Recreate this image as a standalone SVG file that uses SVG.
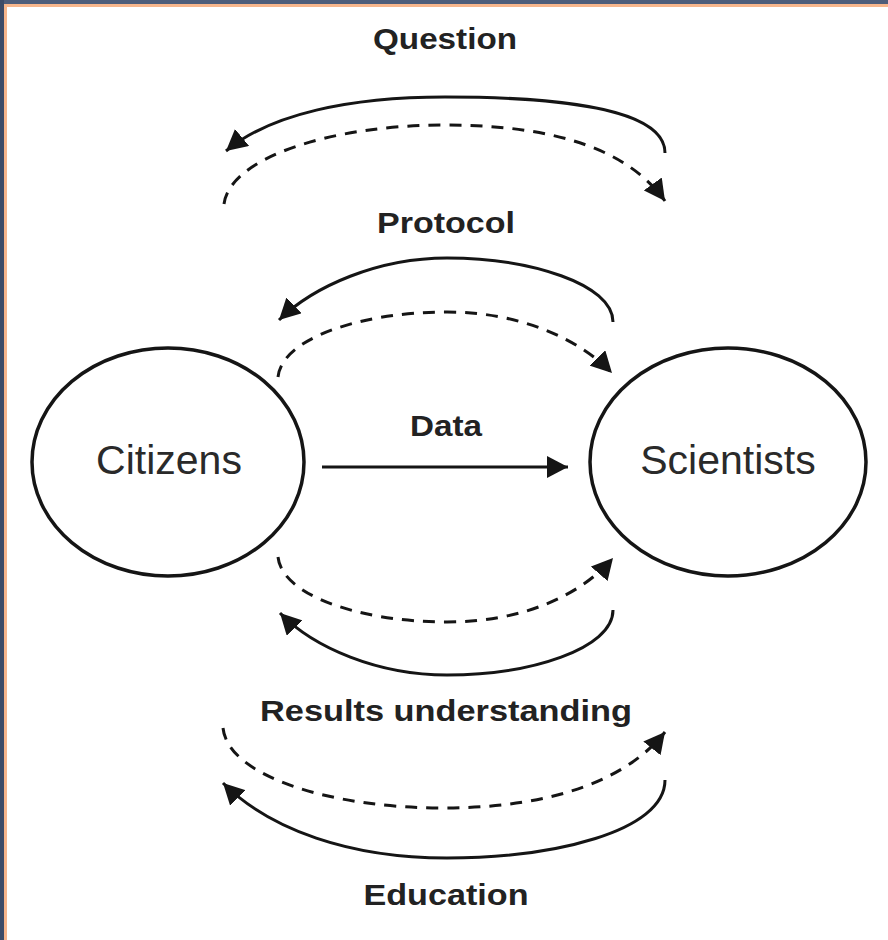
<svg xmlns="http://www.w3.org/2000/svg" width="888" height="940" viewBox="0 0 888 940">
  <style>
    .node { fill: #ffffff; stroke: #151515; stroke-width: 3.5; }
    .nodeLabel { font-family: "Liberation Sans", Arial, sans-serif; font-size: 41px; fill: #2a2a2a; text-anchor: middle; }
    .edgeLabel { font-family: "Liberation Sans", Arial, sans-serif; font-size: 30px; font-weight: bold; fill: #222222; text-anchor: middle; }
    .solid { fill: none; stroke: #151515; stroke-width: 3; marker-end: url(#head); }
    .dashed { fill: none; stroke: #151515; stroke-width: 3; stroke-dasharray: 12 9; marker-end: url(#head); }
  </style>
  <defs>
    <marker id="head" viewBox="0 0 21 22" refX="21" refY="11" markerWidth="21" markerHeight="22" markerUnits="userSpaceOnUse" orient="auto">
      <path d="M0,0 L21,11 L0,22 Z" fill="#151515"/>
    </marker>
  </defs>

  <!-- page background and frame edges -->
  <rect x="0" y="0" width="888" height="940" fill="#ffffff"/>
  <rect x="0" y="0" width="888" height="4" fill="#4e5d7a"/>
  <rect x="4" y="4" width="884" height="3" fill="#f7b68c"/>
  <rect x="0" y="0" width="4" height="940" fill="#3d4c68"/>
  <rect x="4" y="4" width="3" height="936" fill="#f7b68c"/>

  <!-- nodes -->
  <g id="citizens">
    <ellipse class="node" cx="168" cy="462" rx="136" ry="114"/>
    <text class="nodeLabel" x="169" y="474">Citizens</text>
  </g>
  <g id="scientists">
    <ellipse class="node" cx="728" cy="462" rx="138" ry="114"/>
    <text class="nodeLabel" x="728" y="474">Scientists</text>
  </g>

  <!-- connectors -->
  <g id="connectors">
    <!-- Question -->
    <path class="solid" d="M665,153 C665,108 555,97 445,97 C350,97 270,114 226,151"/>
    <path class="dashed" d="M224,204 C230,158 330,125 445,125 C560,125 630,152 665,201"/>
    <!-- Protocol -->
    <path class="solid" d="M613,322 C613,284 530,258 447,258 C378,258 314,286 279,320"/>
    <path class="dashed" d="M278,377 C282,338 362,312 447,312 C522,312 580,340 612,373"/>
    <!-- Data -->
    <path class="solid" d="M322,467 L568,467"/>
    <!-- Results understanding -->
    <path class="dashed" d="M278,557 C282,596 362,622 447,622 C522,622 580,596 613,558"/>
    <path class="solid" d="M613,610 C613,649 530,675 447,675 C378,675 314,648 280,613"/>
    <!-- Education -->
    <path class="dashed" d="M223,728 C228,776 330,808 443,808 C560,808 630,776 665,732"/>
    <path class="solid" d="M665,780 C665,832 552,858 447,858 C350,858 270,830 223,783"/>
  </g>

  <!-- connector labels -->
  <g id="labels">
    <text class="edgeLabel" x="445" y="49" textLength="144" lengthAdjust="spacingAndGlyphs">Question</text>
    <text class="edgeLabel" x="446" y="233" textLength="138" lengthAdjust="spacingAndGlyphs">Protocol</text>
    <text class="edgeLabel" x="446" y="436" textLength="72" lengthAdjust="spacingAndGlyphs">Data</text>
    <text class="edgeLabel" x="446" y="721" textLength="372" lengthAdjust="spacingAndGlyphs">Results understanding</text>
    <text class="edgeLabel" x="446" y="905" textLength="165" lengthAdjust="spacingAndGlyphs">Education</text>
  </g>
</svg>
